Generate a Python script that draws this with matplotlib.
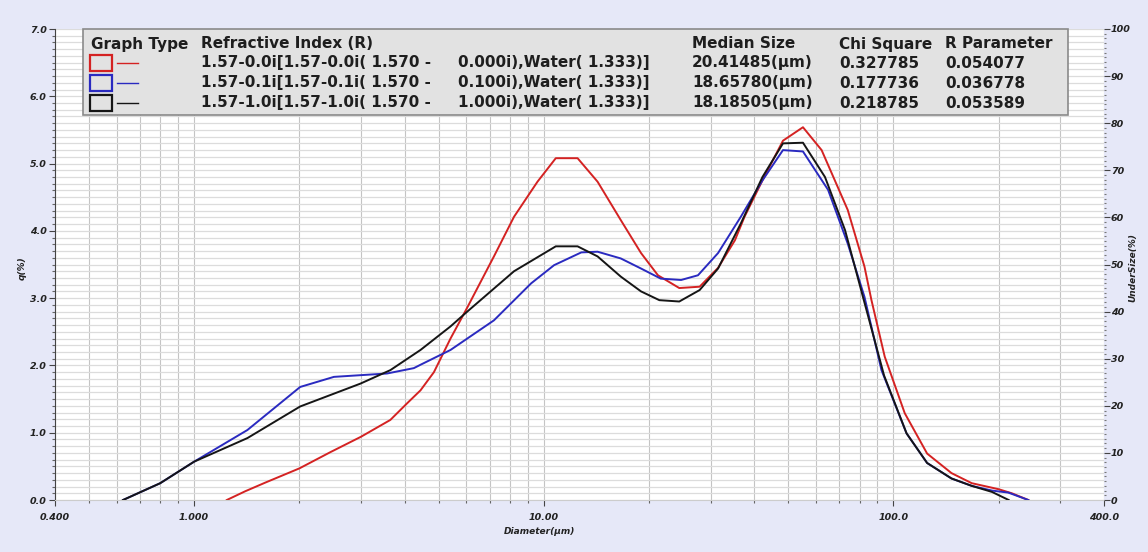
import numpy as np
import matplotlib
matplotlib.use("Agg")
import matplotlib.pyplot as plt
from matplotlib.patches import Rectangle
from matplotlib.lines import Line2D
from matplotlib.ticker import FixedLocator, MultipleLocator, NullFormatter

# --- data (diameter in um, q in %) ---
red_x = [1.24, 1.40, 1.60, 2.0, 2.45, 3.0, 3.64, 4.07, 4.44, 4.85, 5.41, 6.04, 7.2, 8.22,
         9.59, 10.82, 12.49, 14.25, 16.6, 18.97, 21.2, 24.4, 27.9, 31.5, 35.2, 37.5, 42.2,
         48.3, 55.1, 62.3, 74.0, 82.6, 86.5, 94.4, 107.7, 124.8, 146.5, 167.4, 200, 218, 243]
red_y = [0.0, 0.13, 0.26, 0.47, 0.71, 0.94, 1.19, 1.44, 1.63, 1.90, 2.40, 2.86, 3.62, 4.21,
         4.73, 5.08, 5.08, 4.73, 4.16, 3.67, 3.34, 3.15, 3.17, 3.45, 3.86, 4.21, 4.75,
         5.34, 5.54, 5.20, 4.31, 3.47, 2.97, 2.13, 1.29, 0.69, 0.40, 0.25, 0.16, 0.10, 0.0]

blue_x = [0.626, 0.80, 1.0, 1.42, 2.01, 2.51, 3.56, 4.25, 4.44, 5.41, 7.2, 9.2, 10.7, 12.8,
          14.25, 16.6, 18.97, 21.6, 24.7, 27.6, 31.5, 36.6, 42.2, 48.3, 55.1, 65.0, 74.0,
          82.6, 92.4, 109, 124.8, 146.5, 167.4, 191.3, 213, 243]
blue_y = [0.0, 0.25, 0.57, 1.04, 1.68, 1.83, 1.88, 1.96, 2.01, 2.23, 2.67, 3.22, 3.49, 3.68,
          3.69, 3.59, 3.44, 3.29, 3.27, 3.34, 3.67, 4.21, 4.75, 5.20, 5.18, 4.61, 3.81,
          3.02, 1.93, 0.99, 0.55, 0.32, 0.21, 0.14, 0.11, 0.0]

black_x = [0.626, 0.80, 1.0, 1.42, 2.01, 2.99, 3.64, 4.44, 5.41, 6.04, 8.22, 10.82, 12.49,
           14.25, 16.6, 18.97, 21.4, 24.4, 27.9, 31.5, 36.6, 42.2, 48.3, 55.1, 63.7, 72.7,
           81.0, 94.0, 109, 124.8, 146.5, 167.4, 191.3, 213.5]
black_y = [0.0, 0.25, 0.57, 0.92, 1.39, 1.73, 1.93, 2.23, 2.58, 2.80, 3.40, 3.77, 3.77,
           3.62, 3.32, 3.10, 2.97, 2.95, 3.12, 3.44, 4.11, 4.80, 5.30, 5.31, 4.80, 4.01,
           3.10, 1.85, 0.99, 0.55, 0.32, 0.21, 0.12, 0.0]

# legend table
headers = ["Graph Type", "Refractive Index (R)", "Median Size", "Chi Square", "R Parameter"]
ri_labels = ["1.57-0.0i[1.57-0.0i( 1.570 -  0.000i),Water( 1.333)]",
             "1.57-0.1i[1.57-0.1i( 1.570 -  0.100i),Water( 1.333)]",
             "1.57-1.0i[1.57-1.0i( 1.570 -  1.000i),Water( 1.333)]"]
median_sizes = ["20.41485(\u03bcm)", "18.65780(\u03bcm)", "18.18505(\u03bcm)"]
chi_square = ["0.327785", "0.177736", "0.218785"]
r_param = ["0.054077", "0.036778", "0.053589"]
colors = ["#d42222", "#2a2ac0", "#151515"]

x_ticks = [0.4, 1, 10, 100, 400]
x_ticklabels = ["0.400", "1.000", "10.00", "100.0", "400.0"]

W, H = 1148, 552
bg = "#e6e8f8"
fig = plt.figure(figsize=(W / 100, H / 100), dpi=100, facecolor=bg)
ax = fig.add_axes([55 / W, 1 - 500 / H, (1104 - 55) / W, (500 - 29) / H])
ax.set_facecolor("white")

for xs, ys, c in zip([red_x, blue_x, black_x], [red_y, blue_y, black_y], colors):
    ax.plot(xs, ys, color=c, lw=1.4, zorder=3)

ax.set_xscale("log")
ax.set_xlim(0.4, 400)
ax.set_ylim(0, 7)

minor_x = [v * d for d in [0.1, 1, 10, 100] for v in range(2, 10)
           if 0.4 < v * d < 400 and v * d not in (1, 10, 100)]
ax.xaxis.set_major_locator(FixedLocator(x_ticks))
ax.xaxis.set_minor_locator(FixedLocator(minor_x))
ax.set_xticklabels(x_ticklabels)
ax.xaxis.set_minor_formatter(NullFormatter())
ax.yaxis.set_major_locator(MultipleLocator(1.0))
ax.yaxis.set_minor_locator(MultipleLocator(0.1))
ax.yaxis.set_major_formatter(plt.FuncFormatter(lambda v, p: f"{v:.1f}"))

ax.grid(True, which="both", axis="x", color="#c4c4c4", lw=0.8)
ax.grid(True, which="both", axis="y", color="#dcdcdc", lw=0.9)
ax.set_axisbelow(True)

tick_font = dict(fontsize=6.8, fontstyle="italic", fontweight="bold", color="#222222")
ax.tick_params(axis="both", which="major", direction="out", length=4, width=0.8, color="#444444", pad=2)
ax.tick_params(axis="both", which="minor", direction="out", length=2, width=0.8, color="#666666")
for lab in ax.get_xticklabels() + ax.get_yticklabels():
    lab.set(**tick_font)
ax.tick_params(axis="x", pad=5)

for s in ["top", "right"]:
    ax.spines[s].set_visible(False)
ax.spines["bottom"].set_color("#cccccc")
ax.spines["left"].set_color("#444444")

ax2 = ax.twinx()
ax2.set_ylim(0, 100)
ax2.yaxis.set_major_locator(MultipleLocator(10))
ax2.yaxis.set_minor_locator(MultipleLocator(1))
ax2.tick_params(axis="y", which="major", direction="out", length=4, width=0.8, color="#444444", pad=1)
ax2.tick_params(axis="y", which="minor", direction="out", length=1.5, width=0.8, color="#777777")
for lab in ax2.get_yticklabels():
    lab.set(**tick_font)
for s in ["top", "left", "bottom", "right"]:
    ax2.spines[s].set_visible(False)

lab_font = dict(fontsize=6.5, fontstyle="italic", fontweight="bold", color="#222222")
fig.text(540 / W, 1 - 532 / H, "Diameter(\u03bcm)", ha="center", va="center", **lab_font)
fig.text(22 / W, 1 - 268 / H, "q(%)", ha="center", va="center", rotation=90, **lab_font)
fig.text(1133 / W, 1 - 268 / H, "UnderSize(%)", ha="center", va="center", rotation=90, **lab_font)

# legend table box
fig.patches.append(Rectangle((83 / W, 1 - 115 / H), (1068 - 83) / W, (115 - 29) / H,
                             transform=fig.transFigure, facecolor="#e2e2e2",
                             edgecolor="#8a8a8a", lw=1.2, zorder=5))
txt = dict(fontsize=11, fontweight="bold", color="#1e1e1e", va="center", ha="left", zorder=6)

row_y = [44, 63, 83, 103]
header_x = [91, 201, 692, 839, 945]
for h, px in zip(headers, header_x):
    fig.text(px / W, 1 - row_y[0] / H, h, **txt)

for i in range(3):
    yy = 1 - row_y[i + 1] / H
    # the original font is wider than DejaVu, so the label is anchored in two pieces
    left, right = ri_labels[i].split("  ")
    fig.text(201 / W, yy, left, **txt)
    fig.text(458 / W, yy, right, **txt)
    fig.text(692 / W, yy, median_sizes[i], **txt)
    fig.text(839 / W, yy, chi_square[i], **txt)
    fig.text(945 / W, yy, r_param[i], **txt)
    fig.patches.append(Rectangle((90 / W, yy - 8 / H), 22 / W, 16 / H, transform=fig.transFigure,
                                 facecolor="#e2e2e2", edgecolor=colors[i], lw=1.6, zorder=6))
    fig.lines.append(Line2D([117 / W, 138 / W], [yy, yy], transform=fig.transFigure,
                            color=colors[i], lw=1.0, zorder=6))

fig.savefig("out.png", dpi=100, facecolor=bg)
